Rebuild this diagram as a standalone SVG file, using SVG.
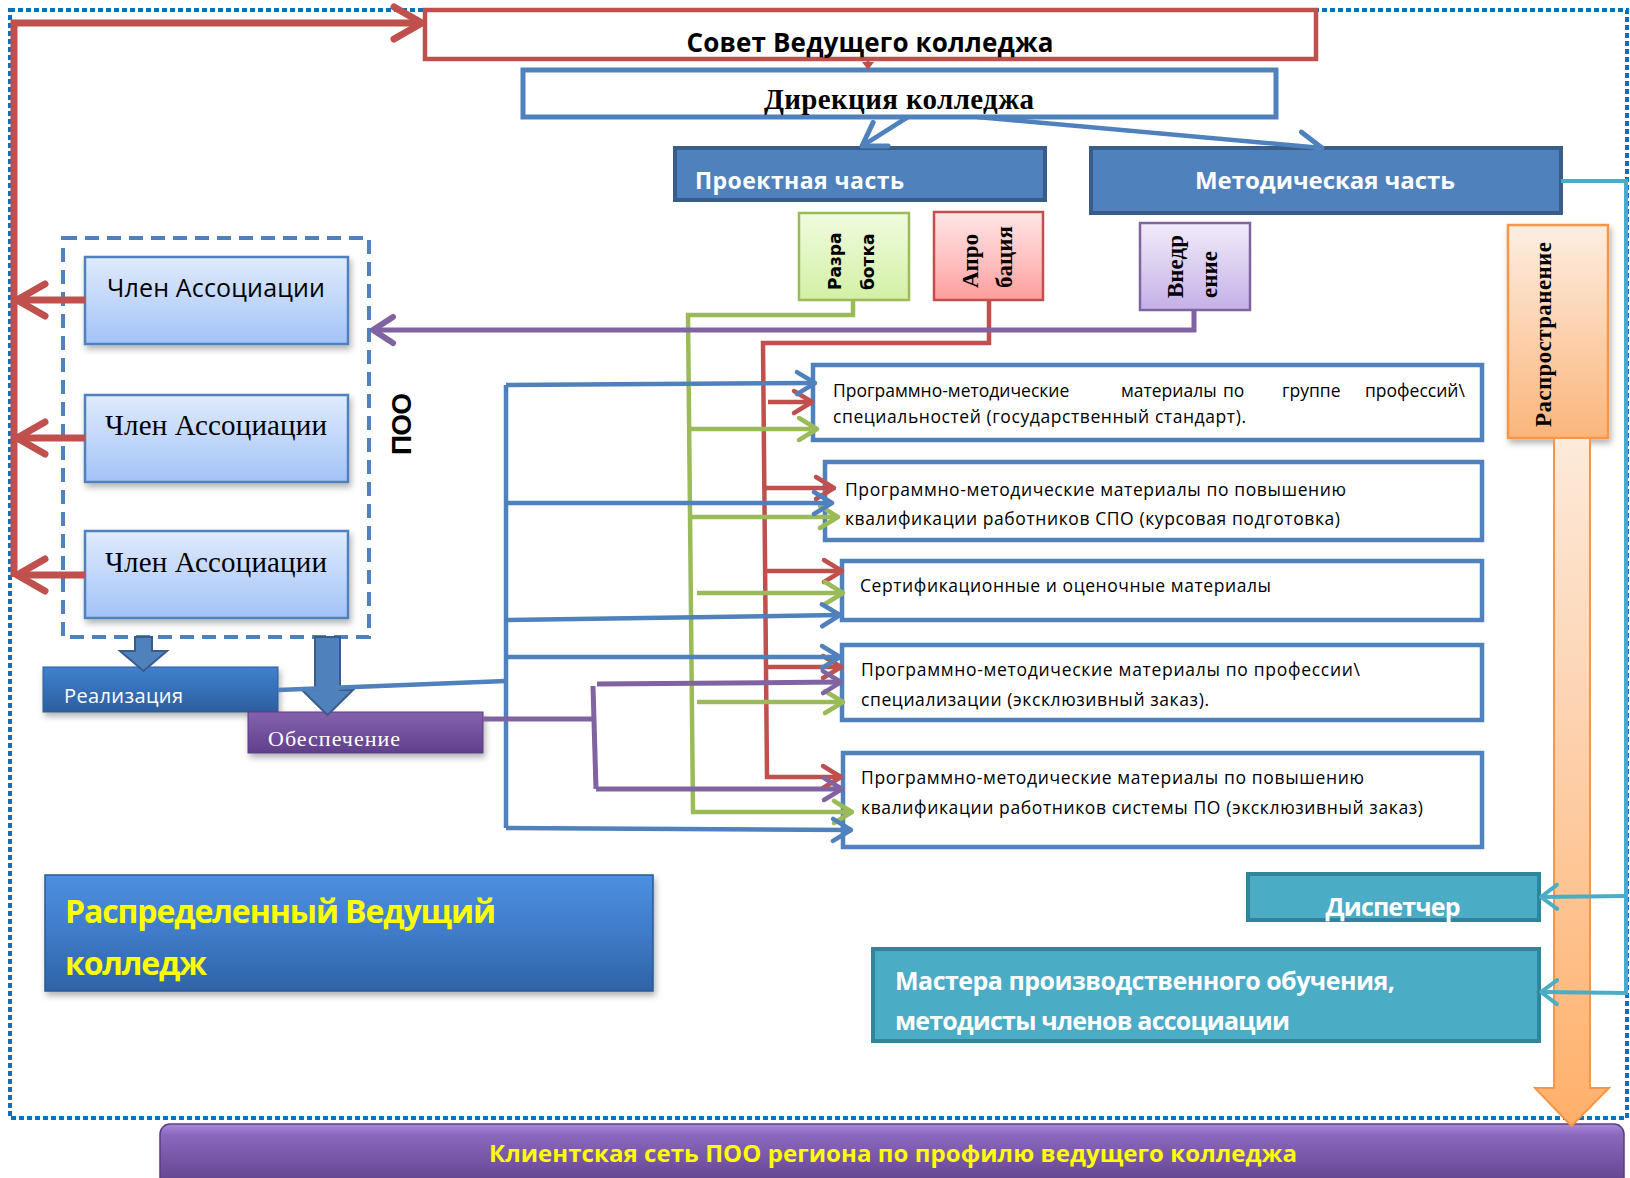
<svg xmlns="http://www.w3.org/2000/svg" width="1630" height="1178" viewBox="0 0 1630 1178">
<defs>
<style>
text{font-family:"Open Sans","Liberation Sans",sans-serif;}
.serif{font-family:"Liberation Serif","DejaVu Serif",serif;}
.dv{font-family:"DejaVu Sans","Liberation Sans",sans-serif;}
.b{font-weight:bold;}
.prog{fill:#fff;stroke:#4F81BD;stroke-width:4.5;}
.pt{font-size:17.5px;fill:#000;}
.ln{fill:none;stroke-linejoin:miter;}
.cb{stroke:#4F81BD;stroke-width:4.5;}
.cr{stroke:#C0504D;stroke-width:4.5;}
.cg{stroke:#9BBB59;stroke-width:4.5;}
.cp{stroke:#8064A2;stroke-width:5;}
.cc{stroke:#4BACC6;stroke-width:4;}
.member{fill:url(#gMember);stroke:#4F81BD;stroke-width:2.5;}
.dark{fill:#4F81BD;stroke:#385D8A;stroke-width:4;}
.teal{fill:#4BACC6;stroke:#31849B;stroke-width:4;}
.wt{fill:#fff;}
.yt{fill:#FFFF00;}
</style>
<linearGradient id="gMember" x1="0" y1="0" x2="0" y2="1"><stop offset="0" stop-color="#E0EBFD"/><stop offset="1" stop-color="#A3C3F7"/></linearGradient>
<linearGradient id="gGreen" x1="0" y1="0" x2="0" y2="1"><stop offset="0" stop-color="#F0FBDF"/><stop offset="1" stop-color="#D3F0A5"/></linearGradient>
<linearGradient id="gPink" x1="0" y1="0" x2="0" y2="1"><stop offset="0" stop-color="#FFE6E6"/><stop offset="0.6" stop-color="#FFBDBD"/><stop offset="1" stop-color="#FF9C9C"/></linearGradient>
<linearGradient id="gLav" x1="0" y1="0" x2="0" y2="1"><stop offset="0" stop-color="#F1ECFA"/><stop offset="1" stop-color="#C5B0E6"/></linearGradient>
<linearGradient id="gOrange" x1="0" y1="0" x2="0" y2="1"><stop offset="0" stop-color="#FDEEE2"/><stop offset="1" stop-color="#FBB57B"/></linearGradient>
<linearGradient id="gArrow" x1="0" y1="0" x2="0" y2="1"><stop offset="0" stop-color="#FDEADA"/><stop offset="0.4" stop-color="#FDD3B1"/><stop offset="1" stop-color="#FFB06A"/></linearGradient>
<linearGradient id="gReal" x1="0" y1="0" x2="0" y2="1"><stop offset="0" stop-color="#4081D0"/><stop offset="1" stop-color="#2D5E9F"/></linearGradient>
<linearGradient id="gObes" x1="0" y1="0" x2="0" y2="1"><stop offset="0" stop-color="#8462AE"/><stop offset="1" stop-color="#613F8C"/></linearGradient>
<linearGradient id="gRVK" x1="0" y1="0" x2="0" y2="1"><stop offset="0" stop-color="#4C90E0"/><stop offset="0.5" stop-color="#3F7BC9"/><stop offset="1" stop-color="#2F63A6"/></linearGradient>
<linearGradient id="gClient" x1="0" y1="0" x2="0" y2="1"><stop offset="0" stop-color="#A98BD9"/><stop offset="0.15" stop-color="#8A68BF"/><stop offset="1" stop-color="#5A3C82"/></linearGradient>
<filter id="sh" x="-10%" y="-10%" width="130%" height="150%"><feDropShadow dx="2" dy="4" stdDeviation="3" flood-color="#000" flood-opacity="0.3"/></filter>
<marker id="mB" markerUnits="userSpaceOnUse" markerWidth="30" markerHeight="30" refX="0" refY="0" orient="auto" overflow="visible"><path d="M-18,-11 L0,0 L-18,11" fill="none" stroke="#4F81BD" stroke-width="4.5" stroke-linecap="round" stroke-linejoin="round"/></marker>
<marker id="mB2" markerUnits="userSpaceOnUse" markerWidth="30" markerHeight="30" refX="0" refY="0" orient="auto" overflow="visible"><path d="M-22,-14 L0,0 L-22,14" fill="none" stroke="#4F81BD" stroke-width="5" stroke-linecap="round" stroke-linejoin="round"/></marker>
<marker id="mR" markerUnits="userSpaceOnUse" markerWidth="30" markerHeight="30" refX="0" refY="0" orient="auto" overflow="visible"><path d="M-18,-11 L0,0 L-18,11" fill="none" stroke="#C0504D" stroke-width="4.5" stroke-linecap="round" stroke-linejoin="round"/></marker>
<marker id="mRB" markerUnits="userSpaceOnUse" markerWidth="40" markerHeight="40" refX="0" refY="0" orient="auto" overflow="visible"><path d="M-28,-16 L0,0 L-28,16" fill="none" stroke="#C0504D" stroke-width="7" stroke-linecap="round" stroke-linejoin="round"/></marker>
<marker id="mG" markerUnits="userSpaceOnUse" markerWidth="30" markerHeight="30" refX="0" refY="0" orient="auto" overflow="visible"><path d="M-18,-11 L0,0 L-18,11" fill="none" stroke="#9BBB59" stroke-width="4.5" stroke-linecap="round" stroke-linejoin="round"/></marker>
<marker id="mP" markerUnits="userSpaceOnUse" markerWidth="30" markerHeight="30" refX="0" refY="0" orient="auto" overflow="visible"><path d="M-18,-11 L0,0 L-18,11" fill="none" stroke="#8064A2" stroke-width="4.5" stroke-linecap="round" stroke-linejoin="round"/></marker>
<marker id="mPB" markerUnits="userSpaceOnUse" markerWidth="30" markerHeight="30" refX="0" refY="0" orient="auto" overflow="visible"><path d="M-20,-13 L0,0 L-20,13" fill="none" stroke="#8064A2" stroke-width="6" stroke-linecap="round" stroke-linejoin="round"/></marker>
<marker id="mC" markerUnits="userSpaceOnUse" markerWidth="30" markerHeight="30" refX="0" refY="0" orient="auto" overflow="visible"><path d="M-16,-12 L0,0 L-16,12" fill="none" stroke="#4BACC6" stroke-width="4" stroke-linecap="round" stroke-linejoin="round"/></marker>
</defs>

<rect id="frame" x="10" y="10" width="1617" height="1108" fill="none" stroke="#0070C0" stroke-width="4" stroke-dasharray="5 3"/>

<g id="sovet">
<rect x="425" y="10" width="891" height="49" fill="#fff" stroke="#C0504D" stroke-width="4.5"/>
<text x="870" y="52" text-anchor="middle" font-size="26" class="b" textLength="367">Совет Ведущего колледжа</text>
</g>
<g id="direkcia">
<rect x="523" y="70" width="753" height="47" fill="#fff" stroke="#4F81BD" stroke-width="5"/>
<text x="899" y="109" text-anchor="middle" font-size="29" class="serif b" textLength="270">Дирекция колледжа</text>
</g>
<g id="proekt">
<rect x="675" y="148" width="370" height="52" class="dark"/>
<text x="695" y="189" font-size="23" class="b wt" textLength="209">Проектная часть</text>
</g>
<g id="metod">
<rect x="1091" y="148" width="470" height="65" class="dark"/>
<text x="1325" y="189" text-anchor="middle" font-size="24" class="b wt" textLength="260">Методическая часть</text>
</g>
<g id="razrabotka">
<rect x="799" y="213" width="110" height="87" fill="url(#gGreen)" stroke="#9BBB59" stroke-width="2.5"/>
<text transform="translate(841,290) rotate(-90)" font-size="17" class="dv b">Разра</text>
<text transform="translate(874,290) rotate(-90)" font-size="17" class="dv b">ботка</text>
</g>
<g id="aprobacia">
<rect x="934" y="212" width="109" height="88" fill="url(#gPink)" stroke="#C0504D" stroke-width="2.5"/>
<text transform="translate(978,288) rotate(-90)" font-size="23" class="serif b">Апро</text>
<text transform="translate(1012,288) rotate(-90)" font-size="23" class="serif b">бация</text>
</g>
<g id="vnedrenie">
<rect x="1140" y="223" width="110" height="87" fill="url(#gLav)" stroke="#8064A2" stroke-width="2.5"/>
<text transform="translate(1183,298) rotate(-90)" font-size="23" class="serif b">Внедр</text>
<text transform="translate(1217,298) rotate(-90)" font-size="23" class="serif b">ение</text>
</g>
<g id="rasprostranenie">
<rect x="1508" y="225" width="100" height="213" fill="url(#gOrange)" stroke="#F79646" stroke-width="2.5" filter="url(#sh)"/>
<text transform="translate(1551,427) rotate(-90)" font-size="23" class="serif b" textLength="185">Распространение</text>
</g>

<g id="poo">
<rect x="63" y="238" width="306" height="399" fill="none" stroke="#4F81BD" stroke-width="4" stroke-dasharray="14 8"/>
<text transform="translate(411,455) rotate(-90)" font-size="28" class="b" textLength="62" style="font-family:'Liberation Sans',sans-serif">ПОО</text>
</g>
<g id="member1">
<rect x="85" y="257" width="263" height="87" class="member" filter="url(#sh)"/>
<text x="216" y="297" text-anchor="middle" font-size="25" textLength="218">Член Ассоциации</text>
</g>
<g id="member2">
<rect x="85" y="395" width="263" height="87" class="member" filter="url(#sh)"/>
<text x="216" y="435" text-anchor="middle" font-size="29" class="serif" textLength="222">Член Ассоциации</text>
</g>
<g id="member3">
<rect x="85" y="531" width="263" height="87" class="member" filter="url(#sh)"/>
<text x="216" y="572" text-anchor="middle" font-size="29" class="serif" textLength="222">Член Ассоциации</text>
</g>
<g id="realizacia">
<rect x="43" y="667" width="235" height="45" fill="url(#gReal)" stroke="#2C5D9A" stroke-width="1" filter="url(#sh)"/>
<text x="64" y="703" font-size="20" class="wt" textLength="119">Реализация</text>
</g>
<g id="obespechenie">
<rect x="248" y="712" width="235" height="41" fill="url(#gObes)" stroke="#5A3C82" stroke-width="1" filter="url(#sh)"/>
<text x="268" y="746" font-size="22" class="serif wt" textLength="132">Обеспечение</text>
</g>

<g id="prog1">
<rect x="813" y="365" width="669" height="75" class="prog"/>
<text x="833" y="397" class="pt">Программно-методические</text>
<text x="1121" y="397" class="pt">материалы</text>
<text x="1223" y="397" class="pt">по</text>
<text x="1282" y="397" class="pt">группе</text>
<text x="1365" y="397" class="pt">профессий\</text>
<text x="833" y="423" class="pt" textLength="413">специальностей (государственный стандарт).</text>
</g>
<g id="prog2">
<rect x="825" y="462" width="657" height="78" class="prog"/>
<text x="845" y="496" class="pt" textLength="501">Программно-методические материалы по повышению</text>
<text x="845" y="525" class="pt" textLength="495">квалификации работников СПО (курсовая подготовка)</text>
</g>
<g id="prog3">
<rect x="842" y="561" width="640" height="59" class="prog"/>
<text x="860" y="592" class="pt" textLength="411">Сертификационные и оценочные материалы</text>
</g>
<g id="prog4">
<rect x="842" y="645" width="640" height="75" class="prog"/>
<text x="861" y="676" class="pt" textLength="499">Программно-методические материалы по профессии\</text>
<text x="861" y="706" class="pt" textLength="348">специализации (эксклюзивный заказ).</text>
</g>
<g id="prog5">
<rect x="843" y="753" width="639" height="94" class="prog"/>
<text x="861" y="784" class="pt" textLength="503">Программно-методические материалы по повышению</text>
<text x="861" y="814" class="pt" textLength="562">квалификации работников системы ПО (эксклюзивный заказ)</text>
</g>

<g id="rvk">
<rect x="45" y="875" width="608" height="116" fill="url(#gRVK)" stroke="#2A5A96" stroke-width="1.5" filter="url(#sh)"/>
<text x="65" y="923" font-size="32" class="b yt" textLength="431">Распределенный Ведущий</text>
<text x="65" y="975" font-size="32" class="b yt" textLength="142">колледж</text>
</g>
<g id="dispetcher">
<rect x="1248" y="874" width="291" height="46" class="teal"/>
<text x="1393" y="916" text-anchor="middle" font-size="25" class="b wt" textLength="135">Диспетчер</text>
</g>
<g id="mastera">
<rect x="873" y="949" width="666" height="92" class="teal"/>
<text x="895" y="990" font-size="25" class="b wt" textLength="500">Мастера производственного обучения,</text>
<text x="895" y="1030" font-size="25" class="b wt" textLength="395">методисты членов ассоциации</text>
</g>
<g id="client">
<rect x="160" y="1124" width="1464" height="70" rx="10" fill="url(#gClient)" stroke="#5A3C82" stroke-width="1.5"/>
<text x="893" y="1162" text-anchor="middle" font-size="24" class="b yt" textLength="808">Клиентская сеть ПОО региона по профилю ведущего колледжа</text>
</g>

<g id="connectors">
<polygon points="1554,438 1590,438 1590,1088 1609,1088 1571.5,1126 1535,1088 1554,1088" fill="url(#gArrow)" stroke="#F79646" stroke-width="2"/>
<polygon points="135,637 152,637 152,651 167,651 143.5,671 120,651 135,651" fill="#4F81BD" stroke="#385D8A" stroke-width="2"/>
<polygon points="315,637 340,637 340,690 353,690 327.5,715 302,690 315,690" fill="#4F81BD" stroke="#385D8A" stroke-width="2"/>

<path class="ln" d="M14,577 L14,23 L422,23" stroke="#C0504D" stroke-width="7" marker-end="url(#mRB)"/>
<path class="ln" d="M85,300 L17,300" stroke="#C0504D" stroke-width="7" marker-end="url(#mRB)"/>
<path class="ln" d="M85,438 L17,438" stroke="#C0504D" stroke-width="7" marker-end="url(#mRB)"/>
<path class="ln" d="M85,575 L17,575" stroke="#C0504D" stroke-width="7" marker-end="url(#mRB)"/>
<path class="ln" d="M868,58 L868,64" stroke="#C0504D" stroke-width="3"/>
<polygon points="862,62 874,62 868,70" fill="#C0504D"/>

<path class="ln cb" d="M908,117 L862,146" stroke-width="5" marker-end="url(#mB2)"/>
<path class="ln cb" d="M977,117 L1322,148" stroke-width="5" marker-end="url(#mB2)"/>

<path class="ln cr" d="M989,300 L989,343 L763,343 L767,777 L841,777" marker-end="url(#mR)"/>
<path class="ln cr" d="M768,402 L812,402" marker-end="url(#mR)"/>
<path class="ln cr" d="M764,488 L834,488" marker-end="url(#mR)"/>
<path class="ln cr" d="M765,571 L842,571" marker-end="url(#mR)"/>
<path class="ln cr" d="M767,667 L841,667" marker-end="url(#mR)"/>

<path class="ln cg" d="M853,300 L853,315 L688,315 L693,812 L852,812" marker-end="url(#mG)"/>
<path class="ln cg" d="M689,429 L817,429" marker-end="url(#mG)"/>
<path class="ln cg" d="M690,517 L838,517" marker-end="url(#mG)"/>
<path class="ln cg" d="M697,593 L843,593" marker-end="url(#mG)"/>
<path class="ln cg" d="M697,702 L843,702" marker-end="url(#mG)"/>

<path class="ln cp" d="M1194,310 L1194,330 L373,330" stroke-width="6" marker-end="url(#mPB)"/>

<path class="ln cb" d="M278,690 L506,681"/>
<path class="ln cb" d="M506,385 L506,828"/>
<path class="ln cb" d="M506,385 L815,383" marker-end="url(#mB)"/>
<path class="ln cb" d="M506,503 L832,503" marker-end="url(#mB)"/>
<path class="ln cb" d="M506,620 L840,615" marker-end="url(#mB)"/>
<path class="ln cb" d="M506,657 L840,657" marker-end="url(#mB)"/>
<path class="ln cb" d="M506,828 L851,830" marker-end="url(#mB)"/>

<path class="ln cp" d="M483,719 L595,719"/>
<path class="ln cp" d="M593,686 L596,789"/>
<path class="ln cp" d="M597,684 L841,682" marker-end="url(#mP)"/>
<path class="ln cp" d="M596,789 L842,789" marker-end="url(#mP)"/>

<path class="ln cc" d="M1561,181 L1626,181 L1626,993 L1541,992" marker-end="url(#mC)"/>
<path class="ln cc" d="M1626,896 L1541,897" marker-end="url(#mC)"/>
</g>
</svg>
